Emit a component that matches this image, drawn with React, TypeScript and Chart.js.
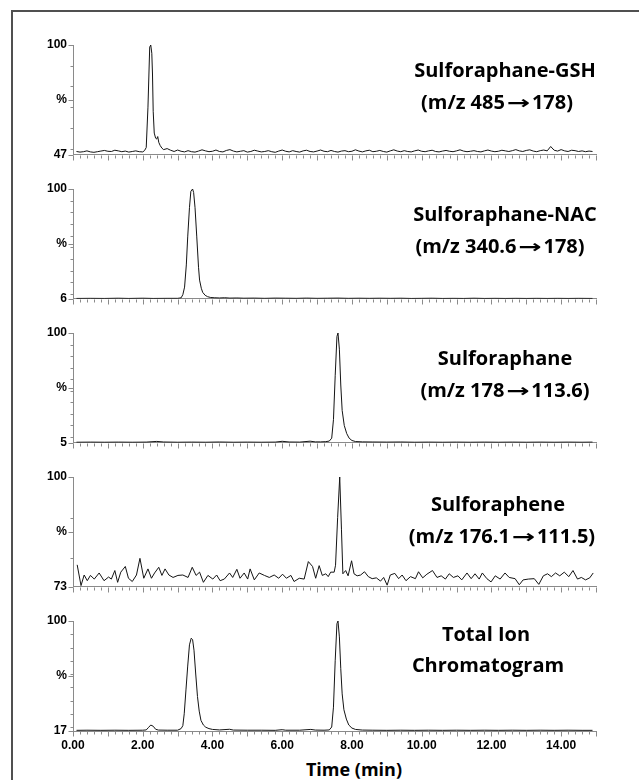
import React, { useEffect, useRef } from "react";
import { Chart, registerables } from "chart.js";

Chart.register(...registerables);

type Pt = [number, number];

// ---------- data: [time (min), relative intensity (%)] ----------
const GSH: Pt[] = [
  [0.1, 48.6], [0.2, 48.3], [0.3, 48.5], [0.4, 48.9], [0.5, 48.4], [0.6, 48.2], [0.7, 48.5], [0.8, 48.8], [0.9, 49.1], [1.0, 48.7],
  [1.1, 48.6], [1.2, 49.2], [1.3, 48.9], [1.4, 48.5], [1.5, 48.8], [1.6, 48.3], [1.7, 48.6], [1.8, 48.9], [1.9, 48.5], [2.0, 48.4],
  [2.05, 49.0], [2.1, 50.5], [2.15, 70], [2.2, 99], [2.23, 100], [2.26, 96], [2.28, 86], [2.3, 68], [2.33, 57.5], [2.37, 55],
  [2.4, 54.6], [2.43, 55.8], [2.46, 53], [2.5, 51.5], [2.55, 50.2], [2.6, 49.5],
  [2.7, 50.0], [2.8, 49.2], [2.9, 48.6], [3.0, 49.3], [3.1, 48.7], [3.2, 48.4], [3.3, 49.0], [3.4, 48.5], [3.5, 48.3], [3.6, 48.8],
  [3.7, 49.4], [3.8, 48.9], [3.9, 48.5], [4.0, 48.7], [4.1, 49.3], [4.2, 48.6], [4.3, 48.4], [4.4, 49.1], [4.5, 49.5], [4.6, 48.8],
  [4.7, 48.4], [4.8, 48.7], [4.9, 49.0], [5.0, 48.3], [5.1, 48.6], [5.2, 49.2], [5.3, 48.8], [5.4, 48.4], [5.5, 48.6], [5.6, 49.0],
  [5.7, 48.5], [5.8, 48.2], [5.9, 48.8], [6.0, 49.3], [6.1, 48.7], [6.2, 48.4], [6.3, 49.0], [6.4, 48.6], [6.5, 48.3], [6.6, 48.9],
  [6.7, 49.2], [6.8, 48.6], [6.9, 48.4], [7.0, 48.8], [7.1, 49.3], [7.2, 48.7], [7.3, 48.5], [7.4, 49.1], [7.5, 48.6], [7.6, 48.3],
  [7.7, 48.8], [7.8, 49.0], [7.9, 48.5], [8.0, 48.7], [8.1, 49.4], [8.2, 48.8], [8.3, 48.4], [8.4, 48.9], [8.5, 49.2], [8.6, 48.5],
  [8.7, 48.7], [8.8, 49.1], [8.9, 48.6], [9.0, 48.3], [9.1, 48.9], [9.2, 49.4], [9.3, 48.8], [9.4, 48.5], [9.5, 49.0], [9.6, 48.6],
  [9.7, 48.4], [9.8, 48.9], [9.9, 49.3], [10.0, 48.7], [10.1, 48.5], [10.2, 48.9], [10.3, 49.2], [10.4, 48.6], [10.5, 48.4], [10.6, 48.8],
  [10.7, 49.1], [10.8, 48.7], [10.9, 48.5], [11.0, 48.9], [11.1, 49.4], [11.2, 48.8], [11.3, 48.5], [11.4, 48.7], [11.5, 49.0], [11.6, 48.6],
  [11.7, 48.4], [11.8, 48.9], [11.9, 49.3], [12.0, 48.8], [12.1, 48.5], [12.2, 48.7], [12.3, 49.2], [12.4, 48.9], [12.5, 48.6], [12.6, 49.0],
  [12.7, 49.5], [12.8, 48.9], [12.9, 48.6], [13.0, 49.1], [13.1, 49.4], [13.2, 48.8], [13.3, 48.5], [13.4, 49.0], [13.5, 49.3], [13.6, 48.9],
  [13.7, 51.0], [13.8, 49.2], [13.9, 48.8], [14.0, 49.5], [14.1, 48.9], [14.2, 48.6], [14.3, 49.2], [14.4, 49.0], [14.5, 48.6], [14.6, 48.9],
  [14.7, 48.5], [14.8, 48.8], [14.9, 48.6],
];

const NAC: Pt[] = [
  [0.1, 6.3], [0.5, 6.4], [0.9, 6.3], [1.3, 6.5], [1.6, 6.3], [2.0, 6.5], [2.3, 6.3], [2.7, 6.4], [3.0, 6.4], [3.1, 6.8],
  [3.15, 9.5], [3.2, 16], [3.25, 35], [3.29, 59], [3.34, 84], [3.38, 98], [3.43, 100], [3.46, 97], [3.5, 84], [3.55, 59],
  [3.6, 33], [3.63, 22], [3.68, 15], [3.72, 11.5], [3.79, 9], [3.86, 7.8], [3.95, 7.1], [4.05, 6.9], [4.2, 6.7], [4.35, 6.9],
  [4.5, 6.6], [4.7, 6.7], [4.9, 6.5], [5.2, 6.6], [5.5, 6.4], [5.8, 6.6], [6.1, 6.5], [6.4, 6.4], [6.7, 6.6], [7.0, 6.4],
  [7.3, 6.5], [7.6, 6.6], [7.9, 6.4], [8.2, 6.5], [8.5, 6.4], [8.8, 6.5], [9.1, 6.4], [9.4, 6.5], [9.7, 6.3], [10.0, 6.4],
  [10.3, 6.5], [10.6, 6.3], [10.9, 6.4], [11.2, 6.3], [11.5, 6.5], [11.8, 6.3], [12.1, 6.4], [12.4, 6.3], [12.7, 6.4], [13.0, 6.3],
  [13.3, 6.4], [13.6, 6.3], [13.9, 6.4], [14.2, 6.3], [14.5, 6.4], [14.9, 6.3],
];

const SFN: Pt[] = [
  [0.1, 5.5], [0.5, 5.6], [0.9, 5.5], [1.3, 5.6], [1.7, 5.5], [2.1, 5.6], [2.4, 6.2], [2.6, 5.7], [3.0, 5.5], [3.4, 5.6],
  [3.8, 5.5], [4.2, 5.7], [4.6, 5.5], [5.0, 5.6], [5.4, 5.5], [5.8, 5.6], [6.0, 6.3], [6.2, 5.7], [6.5, 5.6], [6.8, 6.4],
  [6.95, 5.8], [7.1, 5.8], [7.25, 6.0], [7.35, 6.5], [7.42, 9], [7.47, 25], [7.52, 63], [7.57, 97], [7.6, 100], [7.64, 86],
  [7.68, 55], [7.72, 33], [7.78, 20], [7.85, 13], [7.92, 9], [8.0, 7], [8.1, 6.1], [8.3, 5.8], [8.6, 5.7], [9.0, 5.6],
  [9.4, 5.7], [9.8, 5.5], [10.2, 5.6], [10.6, 5.5], [11.0, 5.6], [11.4, 5.5], [11.8, 5.6], [12.2, 5.5], [12.6, 5.6], [13.0, 5.5],
  [13.4, 5.6], [13.8, 5.5], [14.2, 5.6], [14.6, 5.5], [14.9, 5.6],
];

const SFE: Pt[] = [
  [0.12, 78.4], [0.23, 73.3], [0.32, 75.9], [0.41, 74.5], [0.5, 75.8], [0.61, 74.9], [0.75, 76.4], [0.89, 74.5], [1.02, 75.4], [1.1, 74.9],
  [1.2, 77.0], [1.28, 74.1], [1.37, 76.6], [1.5, 78.0], [1.59, 75.1], [1.7, 74.3], [1.82, 75.9], [1.92, 80.0], [2.03, 75.1], [2.15, 77.4],
  [2.25, 75.1], [2.34, 76.4], [2.46, 77.8], [2.55, 75.8], [2.64, 77.4], [2.75, 75.9], [2.87, 75.3], [3.01, 75.8], [3.15, 75.9], [3.3, 75.3],
  [3.42, 77.8], [3.53, 75.8], [3.63, 76.6], [3.74, 74.1], [3.87, 75.8], [4.01, 74.9], [4.12, 75.9], [4.22, 74.5], [4.34, 74.9], [4.49, 76.4],
  [4.58, 75.3], [4.7, 77.3], [4.79, 75.1], [4.91, 76.4], [5.01, 74.9], [5.08, 77.4], [5.2, 74.7], [5.34, 76.4], [5.49, 75.8], [5.63, 75.3],
  [5.77, 75.9], [5.9, 75.1], [6.01, 76.1], [6.12, 75.1], [6.25, 75.8], [6.34, 74.3], [6.49, 75.1], [6.63, 74.9], [6.75, 79.2], [6.87, 78.0],
  [6.96, 75.1], [7.06, 78.2], [7.15, 75.8], [7.25, 76.2], [7.32, 75.5], [7.39, 76.6], [7.49, 76.6], [7.53, 78.3], [7.59, 90], [7.65, 100],
  [7.7, 87], [7.74, 76.2], [7.82, 77.0], [7.89, 75.7], [7.99, 79.4], [8.06, 76.2], [8.15, 75.7], [8.25, 75.9], [8.36, 76.7], [8.47, 75.5],
  [8.58, 75.0], [8.7, 75.2], [8.82, 74.4], [8.91, 75.3], [9.01, 73.4], [9.1, 75.9], [9.23, 76.3], [9.34, 75.0], [9.44, 75.9], [9.55, 74.5],
  [9.68, 75.5], [9.82, 75.0], [9.91, 76.7], [10.03, 75.2], [10.15, 76.1], [10.31, 77.0], [10.44, 75.3], [10.56, 75.7], [10.68, 74.9], [10.79, 76.2],
  [10.91, 75.3], [11.04, 75.7], [11.15, 74.7], [11.3, 76.4], [11.42, 75.0], [11.53, 76.2], [11.65, 74.9], [11.74, 76.4], [11.87, 75.0], [11.99, 74.2],
  [12.11, 75.7], [12.25, 74.9], [12.39, 76.4], [12.51, 75.3], [12.68, 75.0], [12.8, 73.5], [12.91, 74.7], [13.06, 74.9], [13.23, 75.0], [13.36, 73.6],
  [13.49, 75.7], [13.61, 76.2], [13.72, 75.5], [13.84, 76.4], [13.96, 75.7], [14.09, 76.6], [14.22, 75.5], [14.34, 77.0], [14.47, 74.9], [14.58, 75.3],
  [14.7, 74.7], [14.82, 75.2], [14.92, 76.4],
];

const TIC: Pt[] = [
  [0.1, 17.5], [0.4, 17.6], [0.8, 17.5], [1.2, 17.6], [1.6, 17.5], [2.0, 17.6], [2.1, 17.8], [2.17, 19.8], [2.23, 21.5], [2.3, 20.6],
  [2.37, 18.3], [2.45, 17.7], [2.7, 17.6], [3.0, 17.6], [3.1, 18.8], [3.15, 21], [3.19, 30], [3.24, 48], [3.29, 66], [3.34, 82],
  [3.39, 87], [3.43, 86], [3.47, 78], [3.52, 60], [3.57, 43], [3.62, 32], [3.67, 25], [3.74, 21.5], [3.81, 19.8], [3.9, 18.8],
  [4.0, 18.2], [4.2, 17.8], [4.49, 18.3], [4.6, 17.7], [5.0, 17.6], [5.4, 17.6], [5.8, 17.5], [6.0, 18.0], [6.1, 17.6], [6.5, 17.6],
  [6.82, 18.2], [6.95, 17.7], [7.2, 17.6], [7.35, 17.8], [7.42, 20], [7.47, 35], [7.52, 70], [7.57, 98], [7.6, 100], [7.64, 88],
  [7.68, 64], [7.72, 45], [7.77, 33], [7.84, 26], [7.91, 21.5], [8.0, 19.2], [8.1, 18.2], [8.3, 17.7], [8.6, 17.6], [9.0, 17.5],
  [9.4, 17.6], [9.8, 17.5], [10.2, 17.6], [10.6, 17.5], [11.0, 17.6], [11.4, 17.5], [11.8, 17.6], [12.2, 17.5], [12.6, 17.6], [13.0, 17.5],
  [13.4, 17.6], [13.8, 17.5], [14.2, 17.6], [14.6, 17.5], [14.9, 17.5],
];

const SERIES: Pt[][] = [GSH, NAC, SFN, SFE, TIC];
const Y_BOTTOM = [47, 6, 5, 73, 17];
const Y_TOP = 100;
const Y_MID_LABEL = "%";
const TITLE_1 = ["Sulforaphane-GSH", "Sulforaphane-NAC", "Sulforaphane", "Sulforaphene", "Total Ion"];
const TITLE_2 = ["(m/z 485\u2192178)", "(m/z 340.6\u2192178)", "(m/z 178\u2192113.6)", "(m/z 176.1\u2192111.5)", "Chromatogram"];
const X_LABEL_VALUES = [0, 2, 4, 6, 8, 10, 12, 14];
const X_LABELS = ["0.00", "2.00", "4.00", "6.00", "8.00", "10.00", "12.00", "14.00"];
const X_TITLE = "Time (min)";
const X_MIN = 0;
const X_MAX = 15;

// ---------- layout / style ----------
const W = 639;
const H = 780;
const PANEL_TOP0 = 45;
const PANEL_STEP = 144;
const PLOT_H = 110;
const AXIS_LEFT = 73;
const AXIS_RIGHT = 596;
const PAD_TOP = 10;
const AXIS_COLOR = "#8a8a8a";
const LINE_COLOR = "#141414";
const TICK_FONT = { family: "'Liberation Sans', Arial, sans-serif", size: 12, weight: "bold" as const };
const TITLE_FONT = "'Open Sans', 'Noto Sans', sans-serif";
const ARROW = "\u2192";
const TITLE_POS: { x1: number; y1: number; x2: number; y2: number }[] = [
  { x1: 505, y1: 70, x2: 497, y2: 102 },
  { x1: 505, y1: 214, x2: 500, y2: 246 },
  { x1: 505, y1: 358, x2: 505, y2: 390 },
  { x1: 498, y1: 504, x2: 502, y2: 536 },
  { x1: 486, y1: 634, x2: 488, y2: 665 },
];

const tickMarks = {
  id: "tickMarks",
  afterDraw(chart: any) {
    const { ctx, chartArea } = chart;
    const xs = chart.scales.x;
    const ys = chart.scales.y;
    const bottom = chart.options.plugins.tickMarks.bottom as number;
    const mid = (bottom + Y_TOP) / 2;
    ctx.save();
    ctx.strokeStyle = AXIS_COLOR;
    ctx.lineWidth = 1;
    ctx.beginPath();
    const yb = Math.round(chartArea.bottom) + 0.5;
    for (let i = X_MIN * 5; i <= X_MAX * 5; i++) {
      const px = Math.round(xs.getPixelForValue(i / 5)) + 0.5;
      const len = i % 5 === 0 ? 5 : 3;
      ctx.moveTo(px, yb);
      ctx.lineTo(px, yb + len);
    }
    const xl = Math.round(chartArea.left) + 0.5;
    const yTicks: [number, number][] = [[Y_TOP, 5], [bottom, 5], [mid, 5]];
    for (let v = Math.ceil((bottom + 0.01) / 10) * 10; v < Y_TOP; v += 10) yTicks.push([v, 3]);
    yTicks.forEach(([v, len]) => {
      const py = Math.round(ys.getPixelForValue(v)) + 0.5;
      ctx.moveTo(xl, py);
      ctx.lineTo(xl - len, py);
    });
    ctx.stroke();
    ctx.restore();
  },
};

function Panel({ index }: { index: number }) {
  const ref = useRef<HTMLCanvasElement>(null);
  const isLast = index === SERIES.length - 1;
  const xAxisH = isLast ? 24 : 8;
  const canvasH = PAD_TOP + PLOT_H + xAxisH;
  const top = PANEL_TOP0 + index * PANEL_STEP - PAD_TOP;

  useEffect(() => {
    const bottom = Y_BOTTOM[index];
    const mid = (bottom + Y_TOP) / 2;
    const chart = new Chart(ref.current as HTMLCanvasElement, {
      type: "line",
      data: {
        datasets: [
          {
            data: SERIES[index].map(([x, y]) => ({ x, y })),
            borderColor: LINE_COLOR,
            borderWidth: 1,
            pointRadius: 0,
            tension: 0,
            fill: false,
          },
        ],
      },
      options: {
        animation: false,
        responsive: false,
        events: [],
        layout: { padding: { top: PAD_TOP, right: W - AXIS_RIGHT, left: 0, bottom: 0 } },
        plugins: {
          legend: { display: false },
          tooltip: { enabled: false },
          tickMarks: { bottom },
        } as any,
        scales: {
          x: {
            type: "linear",
            min: X_MIN,
            max: X_MAX,
            afterBuildTicks: (s: any) => {
              s.ticks = X_LABEL_VALUES.map((v) => ({ value: v }));
            },
            afterFit: (s: any) => {
              s.height = xAxisH;
            },
            ticks: {
              display: isLast,
              autoSkip: false,
              maxRotation: 0,
              padding: 2,
              color: "#000",
              font: TICK_FONT,
              callback: (v: any) => {
                const i = X_LABEL_VALUES.indexOf(Number(v));
                return i >= 0 ? X_LABELS[i] : "";
              },
            },
            grid: { display: true, drawOnChartArea: false, drawTicks: true, tickLength: 5, tickColor: "rgba(0,0,0,0)" },
            border: { display: true, color: AXIS_COLOR, width: 1 },
          },
          y: {
            type: "linear",
            min: bottom,
            max: Y_TOP,
            afterBuildTicks: (s: any) => {
              s.ticks = [bottom, mid, Y_TOP].map((v) => ({ value: v }));
            },
            afterFit: (s: any) => {
              s.width = AXIS_LEFT;
            },
            ticks: {
              autoSkip: false,
              padding: 1,
              color: "#000",
              font: TICK_FONT,
              callback: (v: any) => {
                const n = Number(v);
                if (n === Y_TOP) return String(Y_TOP);
                if (n === bottom) return String(bottom);
                return Y_MID_LABEL;
              },
            },
            grid: { display: true, drawOnChartArea: false, drawTicks: true, tickLength: 5, tickColor: "rgba(0,0,0,0)" },
            border: { display: true, color: AXIS_COLOR, width: 1 },
          },
        },
      } as any,
      plugins: [tickMarks],
    });
    return () => chart.destroy();
  }, [index]);

  return (
    <canvas
      ref={ref}
      width={W}
      height={canvasH}
      style={{ position: "absolute", left: 0, top, width: W, height: canvasH, display: "block" }}
    />
  );
}

const titleStyle = (x: number, y: number, size: number): React.CSSProperties => ({
  position: "absolute",
  left: x,
  top: y,
  transform: "translate(-50%, -50%)",
  whiteSpace: "nowrap",
  fontFamily: TITLE_FONT,
  fontWeight: 700,
  fontSize: size,
  lineHeight: 1,
  color: "#000",
});

function Label({ text }: { text: string }) {
  const parts = text.split(ARROW);
  if (parts.length === 1) return <>{text}</>;
  return (
    <>
      {parts[0]}
      <span
        style={{
          display: "inline-block",
          width: 27,
          textAlign: "center",
          transform: "scaleX(1.55)",
          fontFamily: "'DejaVu Sans', sans-serif",
          fontWeight: 700,
          fontSize: 18,
        }}
      >
        {ARROW}
      </span>
      {parts[1]}
    </>
  );
}

export default function App() {
  return (
    <div
      style={{
        position: "absolute",
        left: 0,
        top: 0,
        width: W,
        height: H,
        overflow: "hidden",
        background: "#fff",
      }}
    >
      <div
        style={{
          position: "absolute",
          left: 11,
          top: 10,
          width: W + 40,
          height: H + 40,
          borderLeft: "2px solid #505050",
          borderTop: "2px solid #505050",
        }}
      />
      {SERIES.map((_, i) => (
        <Panel key={i} index={i} />
      ))}
      {TITLE_1.map((t, i) => (
        <div key={"a" + i} style={titleStyle(TITLE_POS[i].x1, TITLE_POS[i].y1, 20)}>
          <Label text={t} />
        </div>
      ))}
      {TITLE_2.map((t, i) => (
        <div key={"b" + i} style={titleStyle(TITLE_POS[i].x2, TITLE_POS[i].y2, 20)}>
          <Label text={t} />
        </div>
      ))}
      <div style={titleStyle(354, 769, 18)}>{X_TITLE}</div>
    </div>
  );
}
